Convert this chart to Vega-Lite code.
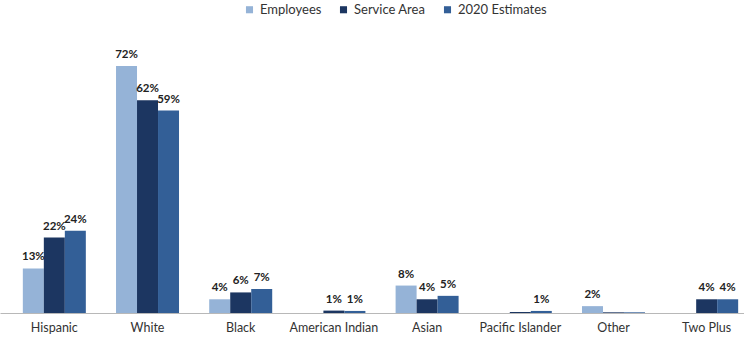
{
  "$schema": "https://vega.github.io/schema/vega-lite/v6.json",
  "autosize": "none",
  "width": 761,
  "height": 283,
  "padding": {"left": 0, "top": 30, "right": 0, "bottom": 27},
  "background": "white",
  "config": {"view": {"stroke": null}, "font": "Lato"},
  "data": {"values": [
    {"group": "Hispanic", "series": "Employees", "value": 0.13},
    {"group": "Hispanic", "series": "Service Area", "value": 0.22},
    {"group": "Hispanic", "series": "2020 Estimates", "value": 0.24},
    {"group": "White", "series": "Employees", "value": 0.72},
    {"group": "White", "series": "Service Area", "value": 0.62},
    {"group": "White", "series": "2020 Estimates", "value": 0.59},
    {"group": "Black", "series": "Employees", "value": 0.04},
    {"group": "Black", "series": "Service Area", "value": 0.06},
    {"group": "Black", "series": "2020 Estimates", "value": 0.07},
    {"group": "American Indian", "series": "Employees", "value": 0},
    {"group": "American Indian", "series": "Service Area", "value": 0.007},
    {"group": "American Indian", "series": "2020 Estimates", "value": 0.006},
    {"group": "Asian", "series": "Employees", "value": 0.08},
    {"group": "Asian", "series": "Service Area", "value": 0.04},
    {"group": "Asian", "series": "2020 Estimates", "value": 0.05},
    {"group": "Pacific Islander", "series": "Employees", "value": 0},
    {"group": "Pacific Islander", "series": "Service Area", "value": 0.003},
    {"group": "Pacific Islander", "series": "2020 Estimates", "value": 0.006},
    {"group": "Other", "series": "Employees", "value": 0.02},
    {"group": "Other", "series": "Service Area", "value": 0.002},
    {"group": "Other", "series": "2020 Estimates", "value": 0.002},
    {"group": "Two Plus", "series": "Employees", "value": 0},
    {"group": "Two Plus", "series": "Service Area", "value": 0.04},
    {"group": "Two Plus", "series": "2020 Estimates", "value": 0.04}
  ]},
  "encoding": {
    "x": {
      "field": "group", "type": "nominal", "sort": null,
      "scale": {"paddingInner": 0.324, "paddingOuter": 0.245},
      "axis": {"title": null, "ticks": false, "labelAngle": 0, "labelFontSize": 12.5, "labelColor": "#333", "labelPadding": 8, "domainColor": "#b8b8b8", "labelFont": "Lato"}
    },
    "xOffset": {"field": "series", "type": "nominal", "sort": ["Employees", "Service Area", "2020 Estimates"], "scale": {"paddingInner": 0, "paddingOuter": 0}},
    "y": {"field": "value", "type": "quantitative", "scale": {"domain": [0, 0.825], "nice": false}, "axis": null}
  },
  "layer": [
    {
      "mark": {"type": "bar"},
      "encoding": {
        "color": {
          "field": "series", "type": "nominal",
          "scale": {"domain": ["Employees", "Service Area", "2020 Estimates"], "range": ["#95B3D7", "#1C3661", "#335F97"]},
          "legend": {"title": null, "orient": "none", "legendX": 243, "legendY": -27, "direction": "horizontal", "symbolType": "square", "symbolSize": 50, "symbolStrokeWidth": 0, "labelFontSize": 13, "labelColor": "#333", "labelOffset": 4, "columnPadding": 15, "labelFont": "Lato"}
        }
      }
    },
    {
      "transform": [{"filter": "datum.value >= 0.005"}],
      "mark": {"type": "text", "dy": -11, "fontWeight": "bold", "fontSize": 11.5, "color": "#222", "font": "Lato"},
      "encoding": {"text": {"field": "value", "type": "quantitative", "format": ".0%"}}
    }
  ]
}
